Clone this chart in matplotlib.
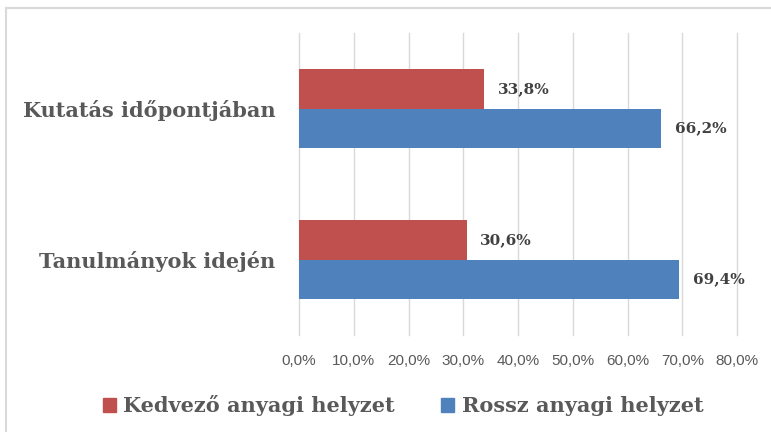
import matplotlib
matplotlib.use("Agg")
import matplotlib.pyplot as plt
from matplotlib.lines import Line2D
from matplotlib.patches import Patch
import numpy as np

categories = ["Tanulmányok idején", "Kutatás időpontjában"]
kedvezo = [30.6, 33.8]
rossz = [69.4, 66.2]
series_names = ["Kedvező anyagi helyzet", "Rossz anyagi helyzet"]
xticks = [0, 10, 20, 30, 40, 50, 60, 70, 80]

RED = "#C0504D"
BLUE = "#4F81BD"
GRAY = "#595959"
SERIF = "DejaVu Serif"

fig = plt.figure(figsize=(7.71, 4.32), dpi=100)
ax = fig.add_axes([299/771, 1-335/432, 438/771, 302/432])

y = np.arange(len(categories))
h = 0.26
ax.barh(y + h/2, kedvezo, height=h, color=RED, zorder=3)
ax.barh(y - h/2, rossz, height=h, color=BLUE, zorder=3)

for yi, v in zip(y + h/2, kedvezo):
    ax.text(v + 2.5, yi, f"{v:.1f}%".replace(".", ","), va="center", ha="left",
            fontsize=11, fontweight="bold", family=SERIF, color="#404040")
for yi, v in zip(y - h/2, rossz):
    ax.text(v + 2.5, yi, f"{v:.1f}%".replace(".", ","), va="center", ha="left",
            fontsize=11, fontweight="bold", family=SERIF, color="#404040")

ax.set_xlim(0, 80)
ax.set_ylim(-0.5, 1.5)
ax.set_xticks(xticks)
ax.set_xticklabels([f"{t:.1f}%".replace(".", ",") for t in xticks],
                   fontsize=11, color=GRAY, family="Liberation Sans")
ax.set_yticks(y)
ax.set_yticklabels(categories, fontsize=15, fontweight="bold", family=SERIF, color=GRAY)
ax.tick_params(axis="both", length=0)
ax.tick_params(axis="x", pad=14)
ax.tick_params(axis="y", pad=17)
ax.grid(axis="x", color="#d9d9d9", linewidth=1, zorder=0)
for gl in ax.get_xgridlines():
    gl.set_clip_on(False)
for s in ax.spines.values():
    s.set_visible(False)

handles = [Patch(color=RED), Patch(color=BLUE)]
leg = fig.legend(handles, series_names, loc="center", bbox_to_anchor=(403/771, 1-406/432),
                 ncol=2, frameon=False, handlelength=0.65, handleheight=0.65,
                 handletextpad=0.35, columnspacing=2.2,
                 prop={"family": SERIF, "weight": "bold", "size": 15})
for t in leg.get_texts():
    t.set_color(GRAY)

fig.add_artist(Line2D([6/771, 6/771], [0, 1-8/432], color="#d9d9d9", linewidth=1.5))
fig.add_artist(Line2D([6/771, 1], [1-8/432, 1-8/432], color="#d9d9d9", linewidth=1.5))

fig.savefig("out.png", dpi=100)
